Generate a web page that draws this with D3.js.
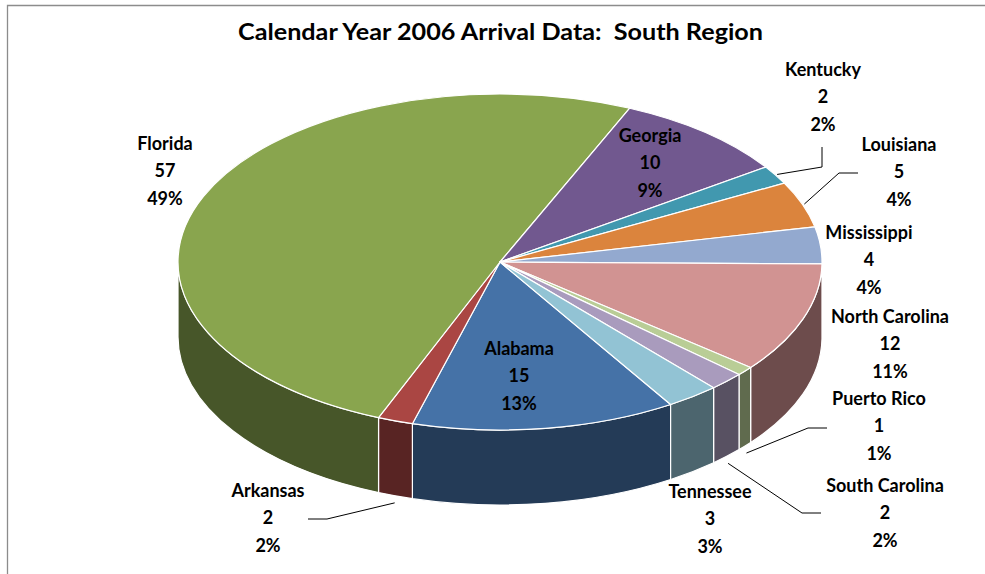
<!DOCTYPE html>
<html><head><meta charset="utf-8">
<script src="https://cdn.jsdelivr.net/npm/d3@7"></script>
<style>html,body{margin:0;padding:0;background:#fff;}svg{display:block;}text{white-space:pre;}</style>
</head><body>
<svg id="chart" width="985" height="574"></svg>
<script>
const title = "Calendar Year 2006 Arrival Data:  South Region";
const categories = ["Alabama","Arkansas","Florida","Georgia","Kentucky","Louisiana","Mississippi","North Carolina","Puerto Rico","South Carolina","Tennessee"];
const values = [15,2,57,10,2,5,4,12,1,2,3];
const percentLabels = ["13%","2%","49%","9%","2%","4%","4%","11%","1%","2%","3%"];
const topColors = ["#4572A7","#AA4643","#89A54E","#71588F","#4198AF","#DB843D","#93A9CF","#D19392","#B9CD96","#A99BBD","#92C3D4"];

// layout
const W = 985, H = 574;
const cx = 500, cy = 262, rx = 322, ry = 168, depth = 75;
const firstSliceAngle = 148; // degrees clockwise from top
const labelLayout = {
  "Alabama": {x:519, y:348},
  "Arkansas": {x:268, y:490, elbow:[327,519], end:[308,519]},
  "Florida": {x:165, y:143},
  "Georgia": {x:650, y:135},
  "Kentucky": {x:823, y:69, elbow:[822,167], end:[822,147]},
  "Louisiana": {x:899, y:144, elbow:[839,173], end:[858,173]},
  "Mississippi": {x:869, y:232},
  "North Carolina": {x:890, y:316},
  "Puerto Rico": {x:879, y:398, elbow:[808,428], end:[827,428]},
  "South Carolina": {x:885, y:485, elbow:[802,513], end:[821,513]},
  "Tennessee": {x:710, y:491}
};

const svg = d3.select("#chart");
svg.append("rect").attr("x",0).attr("y",0).attr("width",W).attr("height",H).attr("fill","#fff");
svg.append("path").attr("d",`M7.5,${H}V5.5H${W}`).attr("fill","none").attr("stroke","#8c8c8c").attr("stroke-width",1.3);

const rad = d => d*Math.PI/180;
const pt = (a, dz=0) => [cx + rx*Math.sin(a), cy - ry*Math.cos(a) + dz];

const pie = d3.pie().sort(null).value(d=>d.value)
  .startAngle(rad(firstSliceAngle)).endAngle(rad(firstSliceAngle)+2*Math.PI);
const data = categories.map((c,i)=>({name:c, value:values[i], pct:percentLabels[i], color:topColors[i]}));
const arcs = pie(data);

function sideColor(c){ const k = d3.rgb(c); return d3.rgb(k.r*0.52, k.g*0.52, k.b*0.52).formatHex(); }

// side walls (visible front half: angle 90..270 mod 360)
const gSide = svg.append("g");
arcs.forEach(a=>{
  const ranges = [[Math.PI/2, 3*Math.PI/2],[Math.PI/2+2*Math.PI, 3*Math.PI/2+2*Math.PI]];
  ranges.forEach(([lo,hi])=>{
    const b1 = Math.max(a.startAngle, lo), b2 = Math.min(a.endAngle, hi);
    if (b2 - b1 > 1e-6){
      const p1 = pt(b1), p2 = pt(b2), q2 = pt(b2, depth), q1 = pt(b1, depth);
      const lg = (b2-b1) > Math.PI ? 1 : 0;
      const d = `M${p1}A${rx},${ry} 0 ${lg} 1 ${p2}L${q2}A${rx},${ry} 0 ${lg} 0 ${q1}Z`;
      gSide.append("path").attr("d",d).attr("fill",sideColor(a.data.color))
        .attr("stroke","#fff").attr("stroke-width",1.2).attr("stroke-linejoin","round");
    }
  });
});

// top faces
const gTop = svg.append("g");
arcs.forEach(a=>{
  const p1 = pt(a.startAngle), p2 = pt(a.endAngle);
  const lg = (a.endAngle-a.startAngle) > Math.PI ? 1 : 0;
  gTop.append("path").attr("d",`M${cx},${cy}L${p1}A${rx},${ry} 0 ${lg} 1 ${p2}Z`)
    .attr("fill",a.data.color).attr("stroke","#fff").attr("stroke-width",1.2).attr("stroke-linejoin","round");
});

// leader lines
const gLines = svg.append("g");
arcs.forEach(a=>{
  const L = labelLayout[a.data.name];
  if (!L.elbow) return;
  const mid = (a.startAngle + a.endAngle)/2;
  const c = Math.cos(mid);
  let start;
  if (c < 0) { const p = pt(mid, depth); start = [p[0] + 2*Math.sin(mid), p[1] + 7]; }
  else { start = [cx + (rx+2)*Math.sin(mid), cy - (ry+1)*Math.cos(mid)]; }
  gLines.append("path").attr("d",`M${start}L${L.elbow}L${L.end}`)
    .attr("fill","none").attr("stroke","#000").attr("stroke-width",1);
});

// labels
const font = "Lato, 'Open Sans', sans-serif";
const gLab = svg.append("g").attr("font-family",font).attr("font-weight","bold").attr("font-size",18).attr("fill","#000").attr("text-anchor","middle");
arcs.forEach(a=>{
  const L = labelLayout[a.data.name];
  [a.data.name, String(a.data.value), a.data.pct].forEach((t,i)=>{
    gLab.append("text").attr("x",L.x).attr("y",L.y + i*27.8 + 6.5).text(t);
  });
});

svg.append("text").attr("x",500.5).attr("y",40).attr("text-anchor","middle")
  .attr("font-family",font).attr("font-weight","bold").attr("font-size",23)
  .attr("textLength",525).attr("lengthAdjust","spacingAndGlyphs").text(title);
</script>
</body></html>
